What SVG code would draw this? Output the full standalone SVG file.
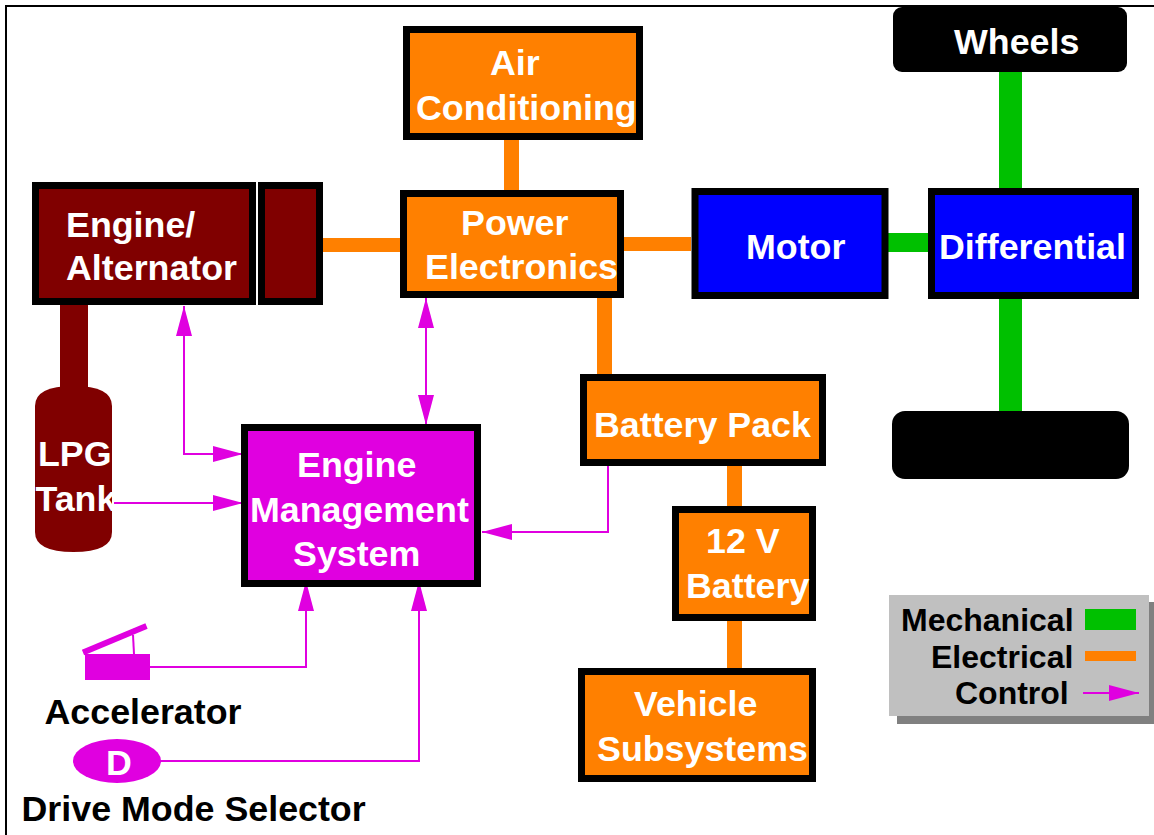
<svg xmlns="http://www.w3.org/2000/svg" width="1154" height="835" viewBox="0 0 1154 835">
<style>
text{font-family:"Liberation Sans",Arial,sans-serif;font-weight:700;font-size:35.8px;fill:#fff}
.k{fill:#000}.lg{font-size:32px;fill:#000}
.box{stroke:#000;stroke-width:7}
.or{fill:#ff8000}.gr{fill:#00c000}.ma{fill:#e000e0}.br{fill:#800000}.bl{fill:#0000ff}
.c{fill:none;stroke:#e000e0;stroke-width:2}
</style>
<defs>
<marker id="a" markerUnits="userSpaceOnUse" markerWidth="30" markerHeight="16" refX="30" refY="8" orient="auto-start-reverse"><path d="M0 0L30 8L0 16z" fill="#e000e0"/></marker>
</defs>
<path id="frame" d="M6 835V6H1154" fill="none" stroke="#000" stroke-width="2"/>
<g id="connectors">
<rect class="gr" x="999" y="72" width="23" height="116"/>
<rect class="gr" x="999" y="298" width="23" height="113"/>
<rect class="gr" x="888" y="233" width="40" height="19"/>
<rect class="or" x="504" y="140" width="15" height="50"/>
<rect class="or" x="323" y="238" width="77" height="14"/>
<rect class="or" x="624" y="237" width="67" height="14"/>
<rect class="or" x="597" y="298" width="15" height="76"/>
<rect class="or" x="727" y="466" width="15" height="40"/>
<rect class="or" x="727" y="621" width="15" height="47"/>
<rect class="br" x="60" y="305" width="28" height="90"/>
<path class="c" d="M184 306V454H243" marker-start="url(#a)" marker-end="url(#a)"/>
<path class="c" d="M114 503H243" marker-end="url(#a)"/>
<path class="c" d="M426 298V425" marker-start="url(#a)" marker-end="url(#a)"/>
<path class="c" d="M608 466V532H482" marker-end="url(#a)"/>
<path class="c" d="M150 667H306V581" marker-end="url(#a)"/>
<path class="c" d="M160 761H419V581" marker-end="url(#a)"/>
</g>
<g id="engine"><rect class="box br" x="35.500" y="185.500" width="217" height="116"/><text x="66" y="237">Engine/</text><text x="66" y="280">Alternator</text></g>
<g id="alternator"><rect class="box br" x="261.500" y="185.500" width="58" height="116"/></g>
<g id="tank"><path class="br" d="M35 406Q35 386 73.500 386T112 406V532Q112 552 73.500 552T35 532z"/><text x="38" y="466">LPG</text><text x="35.500" y="511">Tank</text></g>
<g id="ems"><rect class="box ma" x="244.500" y="427.500" width="233" height="156"/><text x="297" y="477">Engine</text><text x="250" y="522">Management</text><text x="293" y="566">System</text></g>
<g id="air"><rect class="box or" x="406.500" y="29.500" width="233" height="107"/><text x="490" y="75">Air</text><text x="416" y="120">Conditioning</text></g>
<g id="power"><rect class="box or" x="403.500" y="193.500" width="217" height="101"/><text x="461" y="235">Power</text><text x="425" y="279">Electronics</text></g>
<g id="motor"><rect class="box bl" x="695" y="191.500" width="190" height="104"/><text x="746" y="259">Motor</text></g>
<g id="differential"><rect class="box bl" x="931.500" y="191.500" width="204" height="104"/><text x="939" y="259">Differential</text></g>
<g id="battery"><rect class="box or" x="583.500" y="377.500" width="239" height="85"/><text x="594" y="437">Battery Pack</text></g>
<g id="v12"><rect class="box or" x="675.500" y="509.500" width="137" height="108"/><text x="706" y="553">12 V</text><text x="686" y="598">Battery</text></g>
<g id="subsystems"><rect class="box or" x="581.500" y="671.500" width="231" height="107"/><text x="634" y="716">Vehicle</text><text x="597" y="761">Subsystems</text></g>
<g id="wheel-top"><rect x="893" y="7" width="234" height="65" rx="9"/><text x="954" y="54">Wheels</text></g>
<g id="wheel-bottom"><rect x="892" y="411" width="237" height="68" rx="13"/></g>
<g id="accelerator"><rect class="ma" x="85" y="654" width="65" height="26"/><path d="M83 652.500L146.500 626" fill="none" stroke="#e000e0" stroke-width="6"/><path d="M133 635L134 654" class="c"/><text class="k" x="44.500" y="724">Accelerator</text></g>
<g id="selector"><ellipse class="ma" cx="117" cy="761" rx="44" ry="22"/><text x="106" y="775">D</text><text class="k" x="21.500" y="821">Drive Mode Selector</text></g>
<g id="legend">
<rect x="897" y="602" width="257" height="122" fill="#808080"/>
<rect x="889" y="595" width="260" height="121" fill="#c0c0c0"/>
<text class="lg" x="901" y="631">Mechanical</text><text class="lg" x="931" y="668">Electrical</text><text class="lg" x="955" y="704">Control</text>
<rect class="gr" x="1085" y="609" width="51" height="21"/><rect class="or" x="1085" y="651" width="51" height="10"/>
<path class="c" d="M1083 693H1139" marker-end="url(#a)"/>
</g>
</svg>
